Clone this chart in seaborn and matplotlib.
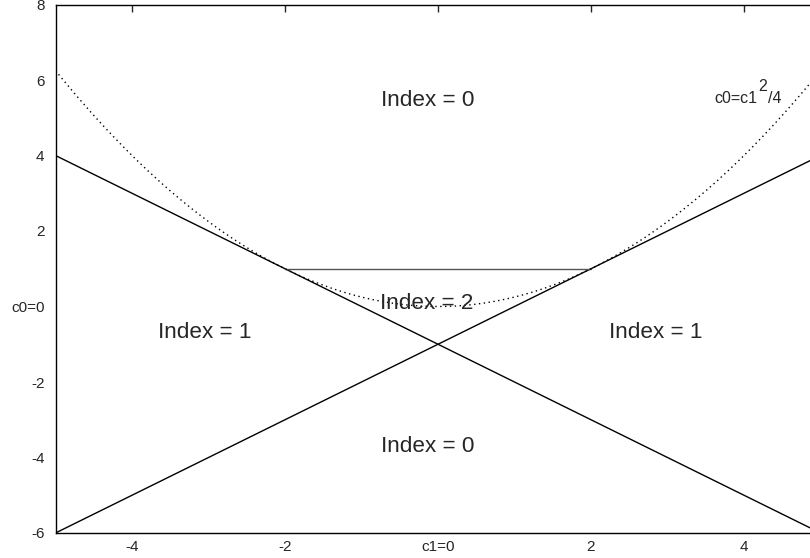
import numpy as np
import pandas as pd
import matplotlib
matplotlib.use('Agg')
import matplotlib.pyplot as plt
import seaborn as sns

# data
c1_vals = [-5, -4, -3, -2, -1, 0, 1, 2, 3, 4, 5]
line_down = [4, 3, 2, 1, 0, -1, -2, -3, -4, -5, -6]   # c0 = -c1 - 1
line_up = [-6, -5, -4, -3, -2, -1, 0, 1, 2, 3, 4]     # c0 = c1 - 1
flat_c1 = [-2, 2]
flat_c0 = [1, 1]
par_c1 = np.linspace(-5, 5, 201)
par_c0 = par_c1 ** 2 / 4

xticks = [-4, -2, 0, 2, 4]
xlabels = ['-4', '-2', 'c1=0', '2', '4']
yticks = [-6, -4, -2, 0, 2, 4, 6, 8]
ylabels = ['-6', '-4', '-2', 'c0=0', '2', '4', '6', '8']

region_x = [-0.14, -0.15, -3.05, 2.85, -0.14]
region_y = [5.45, 0.07, -0.7, -0.7, -3.7]
region_txt = ['Index = 0', 'Index = 2', 'Index = 1', 'Index = 1', 'Index = 0']

sns.set_style('white')
plt.rcParams['font.family'] = ['Liberation Sans', 'DejaVu Sans']

fig = plt.figure(figsize=(8.1, 5.58), dpi=100)
ax = fig.add_axes([55.5 / 810, 1 - 533 / 558, 765 / 810, 528.5 / 558])

df = pd.DataFrame({'c1': c1_vals, 'down': line_down, 'up': line_up})
sns.lineplot(x='c1', y='down', data=df, ax=ax, color='black', lw=1)
sns.lineplot(x='c1', y='up', data=df, ax=ax, color='black', lw=1)
sns.lineplot(x=flat_c1, y=flat_c0, ax=ax, color='#555555', lw=1)
sns.lineplot(x=par_c1, y=par_c0, ax=ax, color='black', lw=1, linestyle=(0, (1, 2.5)))

for x, y, t in zip(region_x, region_y, region_txt):
    ax.text(x, y, t, ha='center', va='center', fontsize=16.2)

# curve label c0=c1^2/4, with a gnuplot-style full size superscript
ax.text(4.18, 5.39, 'c0=c1', ha='right', va='baseline', fontsize=11.5)
ax.text(4.18, 5.70, '2', ha='left', va='baseline', fontsize=11.5)
ax.text(4.31, 5.39, '/4', ha='left', va='baseline', fontsize=11.5)

ax.set_xlim(-5, 5)
ax.set_ylim(-6, 8)
ax.set_xticks(xticks)
ax.set_xticklabels(xlabels)
ax.set_yticks(yticks)
ax.set_yticklabels(ylabels)
ax.set_xlabel('')
ax.set_ylabel('')
ax.tick_params(direction='in', length=5, width=1, labelsize=11, top=True, right=True)
ax.tick_params(axis='x', pad=5)
ax.tick_params(axis='y', pad=8)
for s in ax.spines.values():
    s.set_color('black')
    s.set_linewidth(1)

fig.savefig('out.png', dpi=100)
